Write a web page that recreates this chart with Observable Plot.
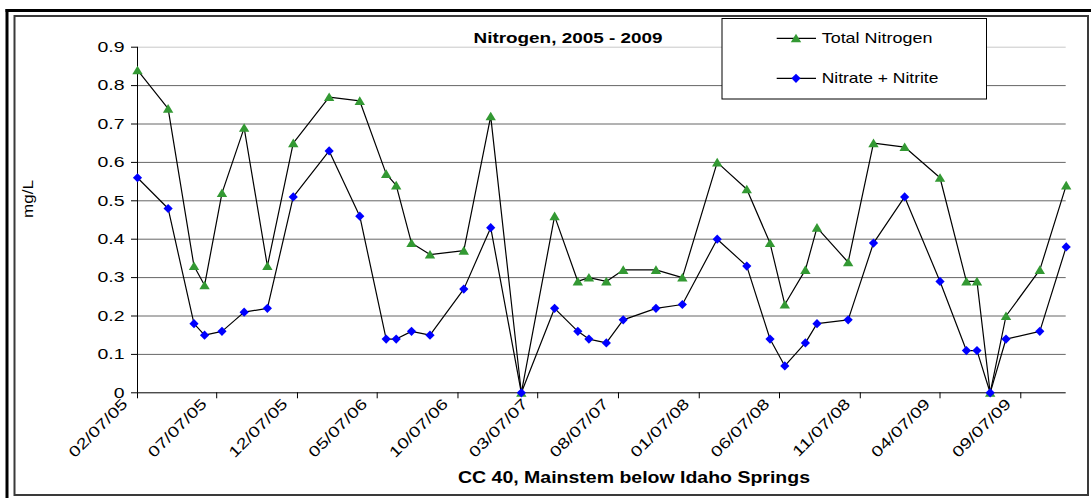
<!DOCTYPE html>
<html><head><meta charset="utf-8">
<script src="https://cdn.jsdelivr.net/npm/d3@7"></script>
<script src="https://cdn.jsdelivr.net/npm/@observablehq/plot@0.6"></script>
<style>
html,body{margin:0;padding:0;background:#fff;}
svg{display:block;}
</style></head><body>
<div id="chart"></div>
<script>
// ---- data ----
const sampleDates = ["2005-02-07","2005-04-06","2005-05-25","2005-06-14","2005-07-17","2005-08-28","2005-10-11","2005-11-29",
  "2006-02-05","2006-04-04","2006-05-24","2006-06-12","2006-07-11","2006-08-15","2006-10-18","2006-12-08",
  "2007-02-04","2007-04-08","2007-05-22","2007-06-12","2007-07-15","2007-08-16","2007-10-17","2007-12-06",
  "2008-02-10","2008-04-06","2008-05-20","2008-06-17","2008-07-26","2008-08-17","2008-10-15","2008-12-02",
  "2009-01-30","2009-04-07","2009-05-27","2009-06-16","2009-07-11","2009-08-10","2009-10-13","2009-12-02"];
const totalNitrogen = [0.84,0.74,0.33,0.28,0.52,0.69,0.33,0.65,0.77,0.76,0.57,0.54,0.39,0.36,0.37,0.72,0,0.46,0.29,0.30,
  0.29,0.32,0.32,0.30,0.60,0.53,0.39,0.23,0.32,0.43,0.34,0.65,0.64,0.56,0.29,0.29,0,0.20,0.32,0.54];
const nitrateNitrite = [0.56,0.48,0.18,0.15,0.16,0.21,0.22,0.51,0.63,0.46,0.14,0.14,0.16,0.15,0.27,0.43,0,0.22,0.16,0.14,
  0.13,0.19,0.22,0.23,0.40,0.33,0.14,0.07,0.13,0.18,0.19,0.39,0.51,0.29,0.11,0.11,0,0.14,0.16,0.38];
const seriesNames = ["Total Nitrogen","Nitrate + Nitrite"];
const yTicks = [0,0.1,0.2,0.3,0.4,0.5,0.6,0.7,0.8,0.9];
const yTickLabels = ["0","0.1","0.2","0.3","0.4","0.5","0.6","0.7","0.8","0.9"];
const xTickDates = ["2005-02-07","2005-07-07","2005-12-07","2006-05-07","2006-10-07","2007-03-07","2007-08-07",
  "2008-01-07","2008-06-07","2008-11-07","2009-04-07","2009-09-07"];
const xTickLabels = ["02/07/05","07/07/05","12/07/05","05/07/06","10/07/06","03/07/07","08/07/07",
  "01/07/08","06/07/08","11/07/08","04/07/09","09/07/09"];
const xDomainDates = ["2005-02-07","2009-12-02"];
const chartTitle = "Nitrogen, 2005 - 2009";
const xTitle = "CC 40, Mainstem below Idaho Springs";
const yTitle = "mg/L";

// ---- build ----
const parse = d3.utcParse("%Y-%m-%d");
const tn = sampleDates.map((d,i)=>({date: parse(d), value: totalNitrogen[i]}));
const nn = sampleDates.map((d,i)=>({date: parse(d), value: nitrateNitrite[i]}));
const xTicks = xTickDates.map(parse);
const xTickRows = xTicks.map((d,i)=>({date: d, label: xTickLabels[i]}));
const xDomain = xDomainDates.map(parse);

const triSym = {draw(ctx){ ctx.moveTo(0,-4.6); ctx.lineTo(5.2,4); ctx.lineTo(-5.2,4); ctx.closePath(); }};
const diaSym = {draw(ctx){ ctx.moveTo(0,-4.6); ctx.lineTo(4.6,0); ctx.lineTo(0,4.6); ctx.lineTo(-4.6,0); ctx.closePath(); }};
const GREEN = "#339933", BLUE = "#0000ff";
const FONT = "'Liberation Sans', Arial, sans-serif";

const svgNode = Plot.plot({
  width: 1091, height: 498,
  marginLeft: 137, marginRight: 25.3, marginTop: 46.7, marginBottom: 105.7,
  style: {fontFamily: FONT, fontSize: "15px", background: "white", color: "black", overflow: "visible"},
  x: {type: "utc", domain: xDomain},
  y: {domain: [0, 0.9]},
  marks: [
    Plot.ruleY(yTicks.slice(1, -1), {stroke: "#666", strokeWidth: 1}),
    Plot.ruleY([0.9], {stroke: "#c8c8c8", strokeWidth: 1}),
    Plot.axisY({ticks: yTicks, tickFormat: d => yTickLabels[Math.round(d*10)], tickSize: 6, tickPadding: 7, label: null, stroke: "black"}),
    Plot.axisX({ticks: xTicks, tickFormat: () => "", tickSize: 6, label: null, stroke: "black"}),
    Plot.text(xTickRows, {x: "date", text: "label", frameAnchor: "bottom", rotate: -45, textAnchor: "end",
      dx: -9, dy: 12, fontSize: 15, className: "xticklab"}),
    Plot.ruleX([xDomain[0]], {y1: 0, y2: 0.9, stroke: "black"}),
    Plot.ruleY([0], {stroke: "black"}),
    Plot.lineY(tn, {x: "date", y: "value", stroke: "black", strokeWidth: 1.2}),
    Plot.dot(tn, {x: "date", y: "value", symbol: triSym, fill: GREEN, r: 4}),
    Plot.lineY(nn, {x: "date", y: "value", stroke: "black", strokeWidth: 1.2}),
    Plot.dot(nn, {x: "date", y: "value", symbol: diaSym, fill: BLUE, r: 4})
  ]
});
document.getElementById("chart").appendChild(svgNode);
const svg = d3.select(svgNode);

// stretch tick labels horizontally like the reference
svg.selectAll('g[aria-label="y-axis tick label"] text, .xticklab text').each(function(){
  const L = this.getComputedTextLength();
  if (L > 0) {
    this.setAttribute("textLength", (L*1.3).toFixed(1));
    this.setAttribute("lengthAdjust", "spacingAndGlyphs");
  }
});

function addText(x, y, str, opts) {
  const t = svg.append("text").attr("x", x).attr("y", y).text(str)
    .attr("font-family", FONT).attr("font-size", opts.size).attr("fill", "black")
    .attr("text-anchor", opts.anchor || "start");
  if (opts.bold) t.attr("font-weight", "bold");
  if (opts.transform) t.attr("transform", opts.transform);
  if (opts.len) t.attr("textLength", opts.len).attr("lengthAdjust", "spacingAndGlyphs");
  return t;
}

// frames
svg.append("line").attr("x1", 7).attr("x2", 7).attr("y1", 9).attr("y2", 498).attr("stroke", "black").attr("stroke-width", 3);
svg.append("line").attr("x1", 5.5).attr("x2", 1091).attr("y1", 10.5).attr("y2", 10.5).attr("stroke", "black").attr("stroke-width", 3);
svg.append("rect").attr("x", 14.5).attr("y", 16).attr("width", 1088 - 14.5).attr("height", 495 - 16)
  .attr("fill", "none").attr("stroke", "#3a3a3a").attr("stroke-width", 2);

// title
addText(568, 42.5, chartTitle, {size: 15, bold: true, anchor: "middle", len: 189});
// x title
addText(634, 482.5, xTitle, {size: 16, bold: true, anchor: "middle", len: 352});
// y title
addText(0, 0, yTitle, {size: 15, anchor: "middle", len: 38, transform: "translate(33,199) rotate(-90)"});

// legend
const lg = svg.append("g");
lg.append("rect").attr("x", 722).attr("y", 18.5).attr("width", 986.5 - 722).attr("height", 99 - 18.5)
  .attr("fill", "white").attr("stroke", "black").attr("stroke-width", 1);
const rowsY = [38.3, 78.3];
const syms = [triSym, diaSym], cols = [GREEN, BLUE], lens = [110.7, 116.7];
rowsY.forEach((ry, i) => {
  lg.append("line").attr("x1", 776.7).attr("x2", 816).attr("y1", ry).attr("y2", ry).attr("stroke", "black").attr("stroke-width", 1.2);
  const p = d3.path(); syms[i].draw(p);
  lg.append("path").attr("d", p.toString()).attr("transform", `translate(796,${ry})`).attr("fill", cols[i]);
  addText(821.7, ry + 5, seriesNames[i], {size: 14.5, len: lens[i]});
});
</script>
</body></html>
